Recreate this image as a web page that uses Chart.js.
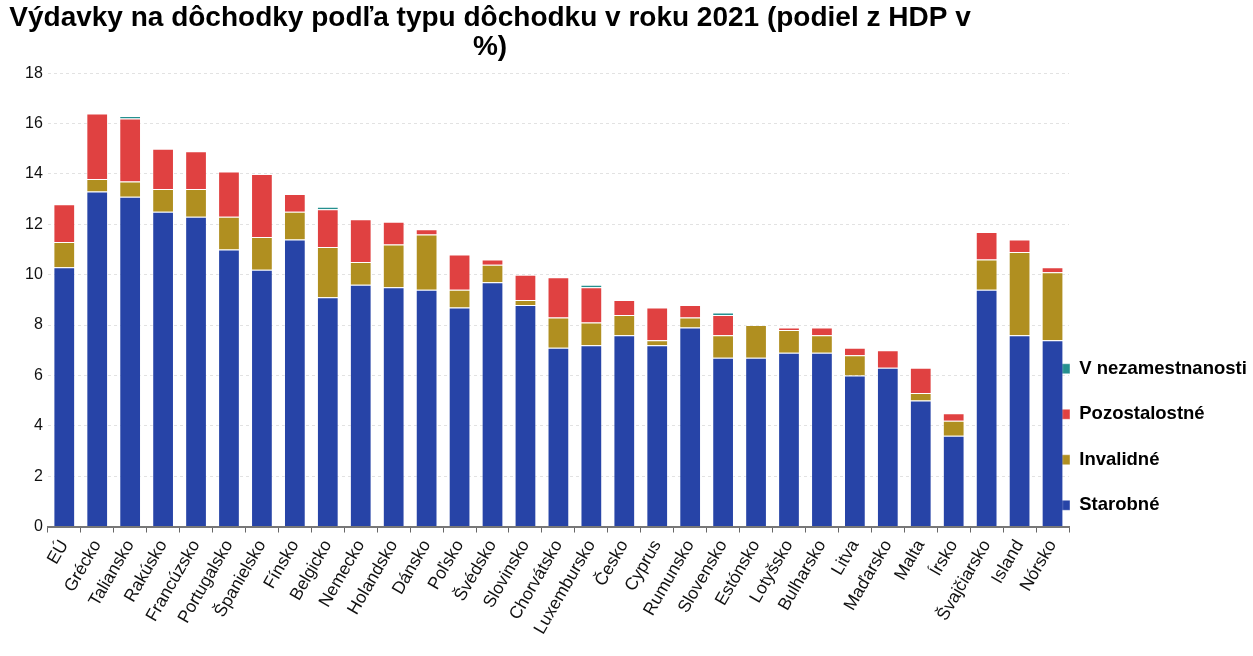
<!DOCTYPE html>
<html>
<head>
<meta charset="utf-8">
<script src="https://cdn.jsdelivr.net/npm/chart.js@4"></script>
<style>
  html, body { margin: 0; padding: 0; background: #fff; }
  #wrap { width: 1253px; height: 656px; }
</style>
</head>
<body>
<div id="wrap"><canvas id="chart-area"></canvas></div>
<script>
var countries = ['EÚ', 'Grécko', 'Taliansko', 'Rakúsko', 'Francúzsko', 'Portugalsko', 'Španielsko',
  'Fínsko', 'Belgicko', 'Nemecko', 'Holandsko', 'Dánsko', 'Poľsko', 'Švédsko', 'Slovinsko',
  'Chorvátsko', 'Luxembursko', 'Česko', 'Cyprus', 'Rumunsko', 'Slovensko', 'Estónsko',
  'Lotyšsko', 'Bulharsko', 'Litva', 'Maďarsko', 'Malta', 'Írsko', 'Švajčiarsko', 'Island', 'Nórsko'];

// % HDP
var starobne = [10.3, 13.3, 13.1, 12.5, 12.3, 11.0, 10.2, 11.4, 9.1, 9.6, 9.5, 9.4, 8.7, 9.7, 8.8,
  7.1, 7.2, 7.6, 7.2, 7.9, 6.7, 6.7, 6.9, 6.9, 6.0, 6.3, 5.0, 3.6, 9.4, 7.6, 7.4];
var invalidne = [1.0, 0.5, 0.6, 0.9, 1.1, 1.3, 1.3, 1.1, 2.0, 0.9, 1.7, 2.2, 0.7, 0.7, 0.2,
  1.2, 0.9, 0.8, 0.2, 0.4, 0.9, 1.3, 0.9, 0.7, 0.8, 0.0, 0.3, 0.6, 1.2, 3.3, 2.7];
var pozostalostne = [1.5, 2.6, 2.5, 1.6, 1.5, 1.8, 2.5, 0.7, 1.5, 1.7, 0.9, 0.2, 1.4, 0.2, 1.0,
  1.6, 1.4, 0.6, 1.3, 0.5, 0.8, 0.0, 0.1, 0.3, 0.3, 0.7, 1.0, 0.3, 1.1, 0.5, 0.2];
var nezamestnanost = [0, 0, 0.1, 0, 0, 0, 0, 0, 0.1, 0, 0, 0, 0, 0, 0,
  0, 0.1, 0, 0, 0, 0.1, 0, 0, 0, 0, 0, 0, 0, 0, 0, 0];

var colors = {
  blue: '#2744a7',
  gold: '#b08f20',
  red: '#e04141',
  teal: '#25908f'
};

var font = "'Liberation Sans', Arial, sans-serif";

function ds(label, data, color) {
  return {
    label: label,
    data: data,
    backgroundColor: color,
    borderColor: 'rgba(255,255,255,0.4)',
    borderWidth: 1,
    barPercentage: 0.66,
    categoryPercentage: 1
  };
}

// title in the source is centred over the plot, and the legend hugs the last bar
var nudge = {
  id: 'nudge',
  afterLayout: function(chart) {
    chart.titleBlock.left = 0;
    chart.titleBlock.right = 980;
    chart.legend.left = 1033;
    chart.legend.top += 15;
    chart.legend.bottom += 15;
  }
};

var config = {
  type: 'bar',
  data: {
    labels: countries,
    datasets: [
      ds('Starobné', starobne, colors.blue),
      ds('Invalidné', invalidne, colors.gold),
      ds('Pozostalostné', pozostalostne, colors.red),
      ds('V nezamestnanosti', nezamestnanost, colors.teal)
    ]
  },
  options: {
    responsive: true,
    maintainAspectRatio: false,
    animation: false,
    layout: { padding: { left: 20, right: 0, top: 0, bottom: 14 } },
    scales: {
      x: {
        stacked: true,
        grid: { display: true, drawOnChartArea: false, offset: true, color: '#666', tickLength: 6, lineWidth: 1 },
        border: { display: true, color: '#777', width: 2 },
        ticks: { color: '#111', font: { family: font, size: 17.5 }, minRotation: 60, maxRotation: 60, autoSkip: false, padding: 4 }
      },
      y: {
        stacked: true,
        min: 0,
        max: 18,
        ticks: { stepSize: 2, color: '#111', font: { family: font, size: 16 }, padding: 5 },
        grid: { color: '#e2e2e2', drawTicks: false },
        border: { display: false, dash: [3, 3] }
      }
    },
    plugins: {
      title: {
        display: true,
        text: ['Výdavky na dôchodky podľa typu dôchodku v roku 2021 (podiel z HDP v', '%)'],
        color: '#000',
        font: { family: font, size: 28, weight: 'bold', lineHeight: 1.04 },
        padding: { top: 4, bottom: 11 }
      },
      legend: {
        display: true,
        position: 'right',
        align: 'end',
        fullSize: false,
        maxWidth: 184,
        reverse: true,
        labels: {
          color: '#000',
          font: { family: font, size: 18.5, weight: 'bold' },
          boxWidth: 10,
          boxHeight: 10,
          padding: 27
        }
      },
      tooltip: { enabled: false }
    }
  },
  plugins: [nudge]
};

window.onload = function() {
  var ctx = document.getElementById('chart-area').getContext('2d');
  window.myBar = new Chart(ctx, config);
};
</script>
</body>
</html>
